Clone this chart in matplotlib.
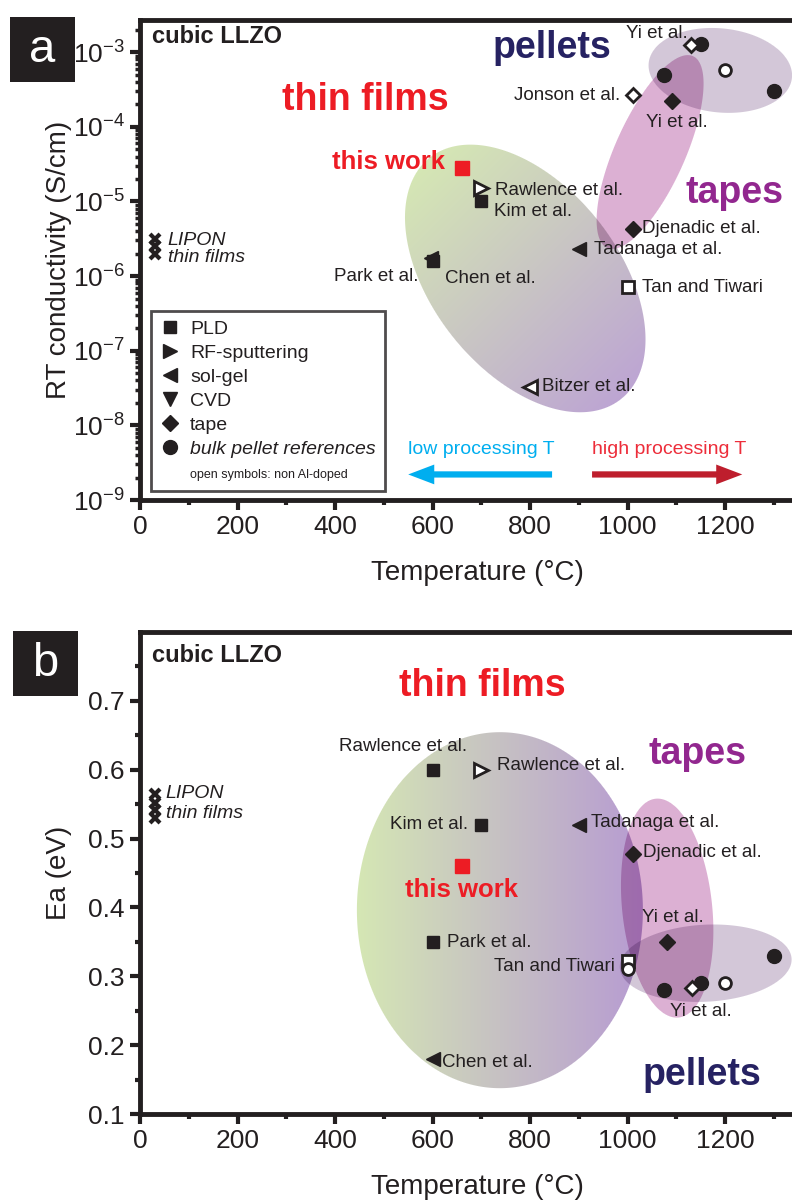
import numpy as np
import matplotlib
matplotlib.use('Agg')
import matplotlib.pyplot as plt
from matplotlib.lines import Line2D
from matplotlib.patches import Rectangle
from matplotlib.ticker import LogLocator, NullFormatter

plt.rcParams['font.family'] = ['Liberation Sans', 'DejaVu Sans']
plt.rcParams['mathtext.fontset'] = 'custom'
plt.rcParams['mathtext.rm'] = 'Liberation Sans'
plt.rcParams['mathtext.it'] = 'Liberation Sans:italic'
plt.rcParams['mathtext.bf'] = 'Liberation Sans:bold'

INK = '#231f20'
RED = '#ed1c24'
NAVY = '#262262'
PURPLE = '#92278f'

# ---------------- panel a: RT conductivity (S/cm) ----------------
a_pld_T, a_pld_s = [600, 700], [1.6e-6, 1.0e-5]            # Park, Kim
a_pld_open_T, a_pld_open_s = [1000], [7.2e-7]              # Tan and Tiwari
a_rf_open_T, a_rf_open_s = [700], [1.5e-5]                 # Rawlence
a_sol_T, a_sol_s = [596, 900], [1.75e-6, 2.3e-6]           # Chen, Tadanaga
a_sol_open_T, a_sol_open_s = [800], [3.3e-8]               # Bitzer
a_tape_T, a_tape_s = [1010, 1090], [4.3e-6, 2.2e-4]        # Djenadic, Yi
a_tape_open_T, a_tape_open_s = [1010, 1130], [2.7e-4, 1.25e-3]  # Jonson, Yi
a_bulk_T, a_bulk_s = [1075, 1150, 1300], [4.9e-4, 1.3e-3, 3.0e-4]
a_bulk_open_T, a_bulk_open_s = [1200], [5.8e-4]
a_work_T, a_work_s = [660], [2.8e-5]
a_lipon_T, a_lipon_s = [30, 30, 30], [3.1e-6, 2.5e-6, 2.0e-6]

# ---------------- panel b: activation energy (eV) ----------------
b_pld_T, b_pld_E = [600, 700, 600], [0.60, 0.52, 0.35]     # Rawlence, Kim, Park
b_pld_open_T, b_pld_open_E = [1000], [0.322]               # Tan and Tiwari
b_rf_open_T, b_rf_open_E = [700], [0.60]                   # Rawlence
b_sol_T, b_sol_E = [900, 600], [0.52, 0.18]                # Tadanaga, Chen
b_tape_T, b_tape_E = [1010, 1080], [0.477, 0.35]           # Djenadic, Yi
b_bulk_T, b_bulk_E = [1075, 1150, 1300], [0.28, 0.29, 0.33]
b_bulk_open_T, b_bulk_open_E = [1000, 1200], [0.31, 0.29]
b_tape_open_T, b_tape_open_E = [1132], [0.283]             # Yi
b_work_T, b_work_E = [660], [0.46]
b_lipon_T, b_lipon_E = [30, 30, 30, 30], [0.565, 0.552, 0.541, 0.53]

W, H = 792, 1202
fig = plt.figure(figsize=(W / 100, H / 100), dpi=100)
bg = fig.add_axes([0, 0, 1, 1], zorder=0)
bg.set_xlim(0, W)
bg.set_ylim(H, 0)
bg.axis('off')

ax1 = fig.add_axes([140 / W, 1 - 500 / H, 1 - 140 / W, 480 / H], zorder=1)
ax2 = fig.add_axes([140 / W, 1 - 1114 / H, 1 - 140 / W, 482 / H], zorder=1)

for ax in (ax1, ax2):
    ax.patch.set_visible(False)
    ax.set_xlim(0, 1337)
    ax.spines['right'].set_visible(False)
    for s in ('left', 'bottom', 'top'):
        ax.spines[s].set_linewidth(3.5)
        ax.spines[s].set_color(INK)
    ax.set_xticks(np.arange(0, 1201, 200))
    ax.set_xticks(np.arange(100, 1301, 200), minor=True)
    ax.tick_params(which='both', direction='out', top=False, right=False,
                   color=INK, labelcolor=INK, labelsize=19, pad=4)
    ax.tick_params(which='major', length=7, width=3)
    ax.tick_params(which='minor', length=3.5, width=3)
    ax.set_xlabel('Temperature (\u00b0C)', fontsize=20, color=INK)
    ax.xaxis.set_label_coords(0.518, -0.125)

ax1.set_yscale('log')
ax1.set_ylim(1e-9, 2.7e-3)
ax1.set_yticks([10.0 ** k for k in range(-9, -2)])
ax1.yaxis.set_minor_locator(LogLocator(base=10, subs=np.arange(2, 10), numticks=100))
ax1.yaxis.set_minor_formatter(NullFormatter())
ax1.tick_params(axis='y', which='minor', length=3.5, width=2.5)
ax1.set_ylabel('RT conductivity (S/cm)', fontsize=20, color=INK)
ax1.yaxis.set_label_coords(-0.104, 0.5)

ax2.set_ylim(0.1, 0.8)
ax2.set_yticks(np.arange(0.1, 0.71, 0.1))
ax2.set_yticks(np.arange(0.15, 0.8, 0.1), minor=True)
ax2.set_yticklabels(['0.1', '0.2', '0.3', '0.4', '0.5', '0.6', '0.7'])
ax2.set_ylabel('Ea (eV)', fontsize=20, color=INK)
ax2.yaxis.set_label_coords(-0.104, 0.5)

# ---------------- shaded groups (multiply-blended ellipses) ----------------
yy, xx = np.mgrid[0:H, 0:W] + 0.5
canvas = np.ones((H, W, 3))


def paint(ax, center, semi, angle, c0, c1=None, gdir=None):
    cx, cy = ax.transData.transform(center)
    cy = H - cy
    a, b = semi
    t = np.deg2rad(angle)
    dx, dy = xx - cx, yy - cy
    u = dx * np.cos(t) + dy * np.sin(t)
    v = -dx * np.sin(t) + dy * np.cos(t)
    r = np.hypot(u / a, v / b)
    g = np.hypot(u / a ** 2, v / b ** 2) / np.maximum(r, 1e-9)
    alpha = np.clip(0.5 + (1 - r) / np.maximum(g, 1e-9), 0, 1)
    c0 = np.array(c0) / 255.0
    if c1 is None:
        col = np.broadcast_to(c0, (H, W, 3))
    else:
        c1 = np.array(c1) / 255.0
        gd = np.deg2rad(gdir)
        ext = np.hypot(a * np.cos(gd - t), b * np.sin(gd - t))
        proj = dx * np.cos(gd) + dy * np.sin(gd)
        s = np.clip((proj / ext + 1) / 2, 0, 1)[..., None]
        col = c0 + (c1 - c0) * s
    canvas[:] = canvas * (1 - alpha[..., None] * (1 - col))


GREEN = (213, 231, 180)
PINK = (220, 176, 211)
PELLET = (211, 199, 216)

paint(ax1, (790, 9.3e-7), (154, 93), 51.6, GREEN, (189, 165, 211), 45)
paint(ax1, (1046, 4.6e-5), (105, 35), -65.9, PINK)
paint(ax1, (1190, 5.7e-4), (72, 42), 6, PELLET)

paint(ax2, (738, 0.396), (143, 178), 0, GREEN, (183, 155, 210), 0)
paint(ax2, (1081, 0.399), (110, 45), 84, PINK)
paint(ax2, (1160, 0.319), (86, 38.5), -3, PELLET)

bg.imshow(canvas, extent=(0, W, H, 0), interpolation='nearest', aspect='auto')
bg.set_xlim(0, W)
bg.set_ylim(H, 0)

# ---------------- markers ----------------
F = dict(color=INK, linestyle='none', mec=INK)
O = dict(color=INK, linestyle='none', mfc='white', mec=INK, mew=2)


def draw(ax, d):
    ax.plot(d['pld'][0], d['pld'][1], marker='s', ms=9, **F)
    ax.plot(d['pld_open'][0], d['pld_open'][1], marker='s', ms=8, **O)
    ax.plot(d['rf_open'][0], d['rf_open'][1], marker='>', ms=9.5, **O)
    ax.plot(d['sol'][0], d['sol'][1], marker='<', ms=10.5, **F)
    if 'sol_open' in d:
        ax.plot(d['sol_open'][0], d['sol_open'][1], marker='<', ms=9.5, **O)
    ax.plot(d['tape'][0], d['tape'][1], marker='D', ms=8, **F)
    ax.plot(d['bulk'][0], d['bulk'][1], marker='o', ms=10, **F)
    ax.plot(d['bulk_open'][0], d['bulk_open'][1], marker='o', ms=8.5, **O)
    ax.plot(d['tape_open'][0], d['tape_open'][1], marker='D', ms=7.5, **O)
    ax.plot(d['work'][0], d['work'][1], marker='s', ms=9.5, color=RED, linestyle='none')
    ax.plot(d['lipon'][0], d['lipon'][1], marker='x', ms=6.5, mew=3, color=INK, linestyle='none')


draw(ax1, dict(pld=(a_pld_T, a_pld_s), pld_open=(a_pld_open_T, a_pld_open_s),
               rf_open=(a_rf_open_T, a_rf_open_s), sol=(a_sol_T, a_sol_s),
               sol_open=(a_sol_open_T, a_sol_open_s), tape=(a_tape_T, a_tape_s),
               tape_open=(a_tape_open_T, a_tape_open_s), bulk=(a_bulk_T, a_bulk_s),
               bulk_open=(a_bulk_open_T, a_bulk_open_s), work=(a_work_T, a_work_s),
               lipon=(a_lipon_T, a_lipon_s)))
draw(ax2, dict(pld=(b_pld_T, b_pld_E), pld_open=(b_pld_open_T, b_pld_open_E),
               rf_open=(b_rf_open_T, b_rf_open_E), sol=(b_sol_T, b_sol_E),
               tape=(b_tape_T, b_tape_E), tape_open=(b_tape_open_T, b_tape_open_E),
               bulk=(b_bulk_T, b_bulk_E), bulk_open=(b_bulk_open_T, b_bulk_open_E),
               work=(b_work_T, b_work_E), lipon=(b_lipon_T, b_lipon_E)))

# ---------------- text: panel a ----------------
lab = dict(fontsize=13.5, color=INK, va='center')
big = dict(fontsize=27, fontweight='bold', ha='center', va='center')
ax1.text(0.018, 0.965, 'cubic LLZO', transform=ax1.transAxes, fontsize=17,
         fontweight='bold', color=INK, va='center')
ax2.text(0.018, 0.952, 'cubic LLZO', transform=ax2.transAxes, fontsize=17,
         fontweight='bold', color=INK, va='center')

ax1.text(462, 2.3e-4, 'thin films', color=RED, **big)
ax1.text(845, 1.13e-3, 'pellets', color=NAVY, **big)
ax1.text(1220, 1.3e-5, 'tapes', color=PURPLE, **big)
ax1.text(509, 3.4e-5, 'this work', color=RED, fontsize=18.5, fontweight='bold',
         ha='center', va='center')
ax1.text(728, 1.4e-5, 'Rawlence et al.', **lab)
ax1.text(726, 7.4e-6, 'Kim et al.', **lab)
ax1.text(572, 1.0e-6, 'Park et al.', ha='right', **lab)
ax1.text(626, 9.3e-7, 'Chen et al.', **lab)
ax1.text(931, 2.3e-6, 'Tadanaga et al.', **lab)
ax1.text(1030, 4.4e-6, 'Djenadic et al.', **lab)
ax1.text(1030, 7.1e-7, 'Tan and Tiwari', **lab)
ax1.text(825, 3.3e-8, 'Bitzer et al.', **lab)
ax1.text(985, 2.6e-4, 'Jonson et al.', ha='right', **lab)
ax1.text(1038, 1.16e-4, 'Yi et al.', **lab)
ax1.text(997, 1.8e-3, 'Yi et al.', **lab)
ax1.text(57, 3.0e-6, 'LIPON', fontsize=14, style='italic', color=INK, va='center')
ax1.text(57, 1.8e-6, 'thin films', fontsize=14, style='italic', color=INK, va='center')

ax1.text(550, 4.7e-9, 'low processing T', fontsize=14, color='#00aeef', va='center')
ax1.text(927, 4.7e-9, 'high processing T', fontsize=14, color='#ed2d3a', va='center')
arr = 'simple,tail_width=0.3,head_width=0.95,head_length=1.25'
ax1.annotate('', xy=(550, 2.2e-9), xytext=(845, 2.2e-9),
             arrowprops=dict(arrowstyle=arr, color='#00aeef', lw=0,
                             mutation_scale=15, shrinkA=0, shrinkB=0))
ax1.annotate('', xy=(1235, 2.2e-9), xytext=(927, 2.2e-9),
             arrowprops=dict(arrowstyle=arr, color='#be1e2d', lw=0,
                             mutation_scale=15, shrinkA=0, shrinkB=0))

# legend
handles = [
    Line2D([], [], marker='s', ms=9, **F),
    Line2D([], [], marker='>', ms=10, **F),
    Line2D([], [], marker='<', ms=10, **F),
    Line2D([], [], marker='v', ms=10, **F),
    Line2D([], [], marker='D', ms=8, **F),
    Line2D([], [], marker='o', ms=10, **F),
    Line2D([], [], linestyle='none'),
]
names = ['PLD', 'RF-sputtering', 'sol-gel', 'CVD', 'tape', 'bulk pellet references',
         'open symbols: non Al-doped']
leg = ax1.legend(handles, names, loc='lower left', bbox_to_anchor=(0.017, 0.019),
                 borderaxespad=0, fontsize=14, frameon=True, fancybox=False,
                 handlelength=0.9, handletextpad=0.6, labelspacing=0.33,
                 borderpad=0.5, labelcolor=INK)
leg.get_frame().set_edgecolor(INK)
leg.get_frame().set_linewidth(2)
leg.get_texts()[5].set_style('italic')
leg.get_texts()[6].set_fontsize(9)

# ---------------- text: panel b ----------------
ax2.text(702, 0.722, 'thin films', color=RED, **big)
ax2.text(1143, 0.623, 'tapes', color=PURPLE, **big)
ax2.text(1153, 0.157, 'pellets', color=NAVY, **big)
ax2.text(660, 0.425, 'this work', color=RED, fontsize=18.5, fontweight='bold',
         ha='center', va='center')
ax2.text(671, 0.633, 'Rawlence et al.', ha='right', **lab)
ax2.text(732, 0.606, 'Rawlence et al.', **lab)
ax2.text(673, 0.52, 'Kim et al.', ha='right', **lab)
ax2.text(925, 0.523, 'Tadanaga et al.', **lab)
ax2.text(1032, 0.48, 'Djenadic et al.', **lab)
ax2.text(630, 0.349, 'Park et al.', **lab)
ax2.text(974, 0.314, 'Tan and Tiwari', ha='right', **lab)
ax2.text(1030, 0.386, 'Yi et al.', **lab)
ax2.text(1087, 0.249, 'Yi et al.', **lab)
ax2.text(619, 0.175, 'Chen et al.', **lab)
ax2.text(53, 0.565, 'LIPON', fontsize=14, style='italic', color=INK, va='center')
ax2.text(53, 0.536, 'thin films', fontsize=14, style='italic', color=INK, va='center')

# ---------------- panel letters ----------------
for letter, (x0, y0) in (('a', (10, 17)), ('b', (13, 631))):
    fig.patches.append(Rectangle((x0 / W, 1 - (y0 + 65) / H), 65 / W, 65 / H,
                                 transform=fig.transFigure, facecolor=INK,
                                 edgecolor='none', zorder=3))
    fig.text((x0 + 32.5) / W, 1 - (y0 + 32.5) / H, letter, color='white',
             fontsize=34, ha='center', va='center', zorder=4)

fig.savefig('out.png', dpi=100)
